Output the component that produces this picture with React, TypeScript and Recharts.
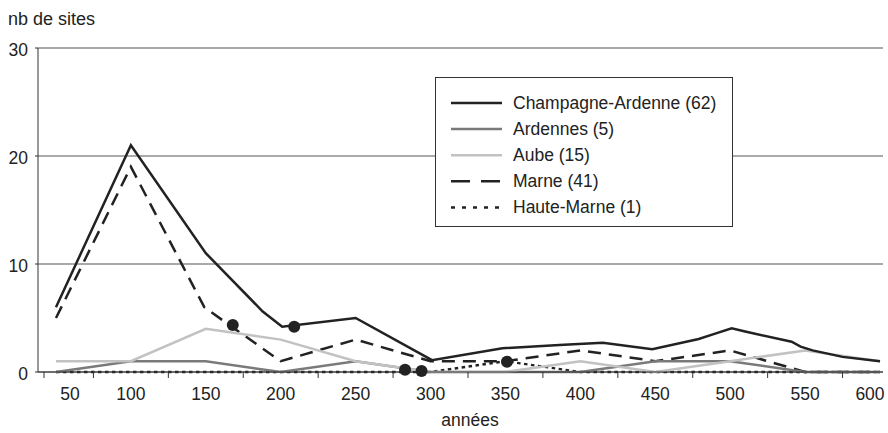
import React from 'react';
import { ComposedChart, Line, XAxis, YAxis, CartesianGrid, Legend } from 'recharts';

// ---- axis ticks ----
const LABEL_YEARS = [50, 100, 150, 200, 250, 300, 350, 400, 450, 500, 550, 600];
const MARK_YEARS = [42, 75, 125, 175, 225, 275, 325, 375, 425, 475, 525, 575];
const Y_TICKS = [0, 10, 20, 30];

// ---- series values (years, number of sites) ----
const champagneYears = [50, 100, 150, 188, 201, 250, 301, 348, 386, 415, 448, 479, 490, 501, 510, 541, 547, 555, 575, 600];
const champagneValues = [6, 21, 11, 5.6, 4.2, 5, 1.1, 2.2, 2.5, 2.7, 2.1, 3.05, 3.55, 4.05, 3.75, 2.8, 2.35, 2.0, 1.4, 1.0];

const ardennesValues = [0, 1, 1, 0, 1, 0, 0, 0, 1, 1, 0, 0];
const aubeValues = [1, 1, 4, 3, 1, 0, 0, 1, 0, 1, 2, 1];
const hauteMarneValues = [0, 0, 0, 0, 0, 0, 1, 0, 0, 0, 0, 0];

const marneYears = [50, 100, 149, 154, 200, 250, 300, 350, 400, 450, 500, 550, 600];
const marneValues = [5, 19, 6, 5.5, 1, 3, 1, 1, 2, 1, 2, 0, 0];

const markerYears = [168, 209, 283, 294, 351];
const markerValues = [4.35, 4.2, 0.2, 0.1, 0.95];

const zip = (ys: number[], vs: number[]) => ys.map((year, i) => ({ year, value: vs[i] }));

const champagneData = zip(champagneYears, champagneValues);
const ardennesData = zip(LABEL_YEARS, ardennesValues);
const aubeData = zip(LABEL_YEARS, aubeValues);
const marneData = zip(marneYears, marneValues);
const hauteMarneData = zip(LABEL_YEARS, hauteMarneValues);
const markerData = zip(markerYears, markerValues);

const BLACK = '#222222';
const FONT = '"Liberation Sans", Arial, sans-serif';
const FS = 17.5;

const SERIES = [
  { name: 'Champagne-Ardenne (62)', color: BLACK, dash: undefined as string | undefined },
  { name: 'Ardennes (5)', color: '#7a7a7a', dash: undefined as string | undefined },
  { name: 'Aube (15)', color: '#c2c2c2', dash: undefined as string | undefined },
  { name: 'Marne (41)', color: BLACK, dash: '19 11' },
  { name: 'Haute-Marne (1)', color: BLACK, dash: '4 7' },
];

const ALL_X_TICKS = [...MARK_YEARS, ...LABEL_YEARS].sort((a, b) => a - b);

const XTick = (props: any) => {
  const { x, y, payload } = props;
  const v = payload.value;
  if (MARK_YEARS.includes(v)) {
    return <line x1={x} x2={x} y1={y} y2={y + 6} stroke="#333" strokeWidth={1} />;
  }
  const dx = v === 50 ? 14 : v === 600 ? -10 : 0;
  return (
    <text x={x + dx} y={y + 28} textAnchor="middle" fontSize={FS} fill={BLACK} fontFamily={FONT}>
      {v}
    </text>
  );
};

const YTick = (props: any) => {
  const { x, y, payload } = props;
  return (
    <text x={x} y={y + 8} textAnchor="end" fontSize={FS} fill={BLACK} fontFamily={FONT}>
      {payload.value}
    </text>
  );
};

const LegendBox = () => (
  <svg width={298} height={150} style={{ display: 'block' }}>
    <rect x={0.5} y={0.5} width={297} height={149} fill="#fff" stroke="#333" strokeWidth={1} />
    {SERIES.map((s, i) => {
      const cy = 26 + i * 26.1;
      return (
        <g key={s.name}>
          <line x1={16} x2={67} y1={cy} y2={cy} stroke={s.color} strokeWidth={2.5} strokeDasharray={s.dash} />
          <text x={78} y={cy + 6} fontSize={FS} fill={BLACK} fontFamily={FONT}>
            {s.name}
          </text>
        </g>
      );
    })}
  </svg>
);

export default function App() {
  return (
    <div style={{ position: 'absolute', left: 0, top: 0, fontFamily: FONT }}>
      <ComposedChart width={888} height={433} margin={{ top: 48, right: 5, bottom: 31, left: 0 }}>
        <CartesianGrid vertical={false} stroke="#555" strokeWidth={1} />
        <XAxis
          type="number"
          dataKey="year"
          domain={[38, 602]}
          ticks={ALL_X_TICKS}
          interval={0}
          tickLine={false}
          tickSize={0}
          tickMargin={0}
          axisLine={{ stroke: '#333' }}
          tick={(p: any) => <XTick {...p} />}
          height={30}
          allowDataOverflow
          label={{
            content: () => (
              <text x={470} y={426} textAnchor="middle" fontSize={FS} fill={BLACK} fontFamily={FONT}>
                années
              </text>
            ),
          }}
        />
        <YAxis
          type="number"
          domain={[0, 30]}
          ticks={Y_TICKS}
          interval={0}
          width={38}
          tickSize={3}
          tickMargin={7}
          axisLine={{ stroke: '#333' }}
          tickLine={{ stroke: '#333' }}
          tick={(p: any) => <YTick {...p} />}
          label={{
            content: () => (
              <text x={8} y={25} fontSize={18} fill={BLACK} fontFamily={FONT}>
                nb de sites
              </text>
            ),
          }}
        />
        <Legend
          layout="vertical"
          align="center"
          verticalAlign="middle"
          wrapperStyle={{ left: 435, top: 77, width: 298, height: 150 }}
          content={() => <LegendBox />}
        />
        <Line data={marneData} dataKey="value" name={SERIES[3].name} stroke={BLACK} strokeWidth={2.5} strokeDasharray="13 8" dot={false} activeDot={false} isAnimationActive={false} />
        <Line data={hauteMarneData} dataKey="value" name={SERIES[4].name} stroke={BLACK} strokeWidth={2.5} strokeDasharray="3.5 3.5" dot={false} activeDot={false} isAnimationActive={false} />
        <Line data={ardennesData} dataKey="value" name={SERIES[1].name} stroke={SERIES[1].color} strokeWidth={2.5} dot={false} activeDot={false} isAnimationActive={false} />
        <Line data={aubeData} dataKey="value" name={SERIES[2].name} stroke={SERIES[2].color} strokeWidth={2.5} dot={false} activeDot={false} isAnimationActive={false} />
        <Line data={champagneData} dataKey="value" name={SERIES[0].name} stroke={BLACK} strokeWidth={2.5} dot={false} activeDot={false} isAnimationActive={false} />
        <Line data={markerData} dataKey="value" name="markers" legendType="none" stroke="none" dot={{ r: 6, fill: BLACK, stroke: 'none' }} activeDot={false} isAnimationActive={false} />
      </ComposedChart>
    </div>
  );
}
